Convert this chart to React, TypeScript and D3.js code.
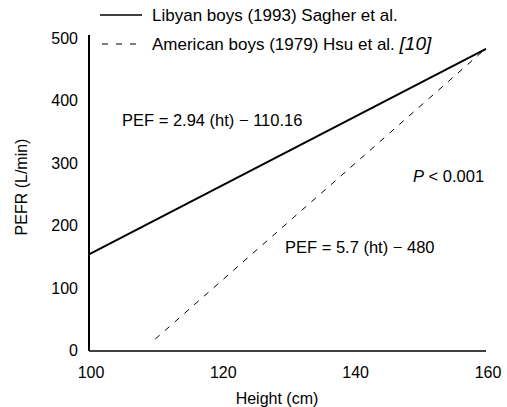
import React from 'react';
import * as d3 from 'd3';

// Height (cm) and PEFR (L/min) end points
const libyanHeight = [100, 160];
const libyanPef = [155, 484];
const americanHeight = [110, 160];
const americanPef = [19, 485];

const xTicks = [100, 120, 140, 160];
const yTicks = [0, 100, 200, 300, 400, 500];

const FONT = '"Liberation Sans", Arial, sans-serif';

export default function App() {
  const width = 507;
  const height = 407;

  const x = d3.scaleLinear().domain([100, 160]).range([89, 486]);
  const y = d3.scaleLinear().domain([0, 500]).range([351, 39]);

  const line = d3
    .line<[number, number]>()
    .x((d) => x(d[0]))
    .y((d) => y(d[1]));

  const libyan = libyanHeight.map((h, i) => [h, libyanPef[i]] as [number, number]);
  const american = americanHeight.map((h, i) => [h, americanPef[i]] as [number, number]);

  return (
    <svg
      width={width}
      height={height}
      style={{ position: 'absolute', left: 0, top: 0, background: '#fff' }}
      fontFamily={FONT}
    >
      {/* legend */}
      <line x1={100} x2={142} y1={15} y2={15} stroke="#000" strokeWidth={1.6} />
      <text x={152} y={21} fontSize={17}>
        Libyan boys (1993) Sagher et al.
      </text>
      <line x1={102} x2={144} y1={44} y2={44} stroke="#000" strokeWidth={1} strokeDasharray="6,8" />
      <text x={152} y={50} fontSize={17}>
        American boys (1979) Hsu et al.{' '}
        <tspan fontStyle="italic" fontSize={19}>[10]</tspan>
      </text>

      {/* axes, no ticks */}
      <line x1={x(100)} x2={x(100)} y1={35} y2={y(0)} stroke="#000" strokeWidth={2} />
      <line x1={x(100)} x2={x(160)} y1={y(0)} y2={y(0)} stroke="#000" strokeWidth={1.6} />

      {yTicks.map((t) => (
        <text key={t} x={78} y={y(t) + 5} fontSize={16} textAnchor="end">
          {t}
        </text>
      ))}
      {xTicks.map((t) => (
        <text key={t} x={x(t) + 2} y={378} fontSize={16} textAnchor="middle">
          {t}
        </text>
      ))}

      <text x={277} y={404} fontSize={16} textAnchor="middle">
        Height (cm)
      </text>
      <text
        transform={`translate(27,187) rotate(-90)`}
        fontSize={16}
        textAnchor="middle"
      >
        PEFR (L/min)
      </text>

      {/* lines */}
      <path d={line(libyan) ?? ''} fill="none" stroke="#000" strokeWidth={2} />
      <path d={line(american) ?? ''} fill="none" stroke="#000" strokeWidth={1} strokeDasharray="6,7" />

      {/* annotations */}
      <text x={122} y={126} fontSize={16.5}>
        PEF = 2.94 (ht) − 110.16
      </text>
      <text x={285} y={253} fontSize={16.5}>
        PEF = 5.7 (ht) − 480
      </text>
      <text x={413} y={182} fontSize={16.5}>
        <tspan fontStyle="italic">P</tspan> &lt; 0.001
      </text>
    </svg>
  );
}
